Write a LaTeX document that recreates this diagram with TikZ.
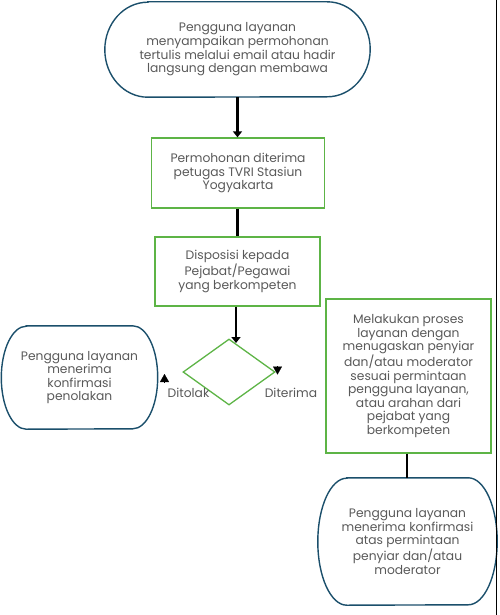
\documentclass[tikz,border=0pt]{standalone}
\usepackage{fontspec}
\setmainfont{Poppins}
\usetikzlibrary{shapes.geometric,arrows.meta}
\definecolor{termblue}{HTML}{1B4F6B}
\definecolor{boxgreen}{HTML}{5DB446}
\definecolor{txtgray}{HTML}{595959}

\tikzset{
  txt/.style={text=txtgray, font=\fontsize{12.3}{13.6}\selectfont, align=center, inner sep=0pt},
  procbox/.style={txt, draw=boxgreen, line width=1.3pt},
  termline/.style={draw=termblue, line width=1.4pt},
  flow/.style={draw=black, line width=2.6pt, -{Triangle[length=6pt,width=9pt]}},
  link/.style={draw=black, line width=2.6pt},
  tip/.style={-{Triangle[length=8pt,width=9pt]}, line width=0.1pt}
}

% terminator outline round a node: name, x radius, y radius
\newcommand{\termshape}[3]{%
  \draw[termline] ([xshift=#2]#1.north west) -- ([xshift=-#2]#1.north east)
    arc[start angle=90, end angle=-90, x radius=#2, y radius=#3]
    -- ([xshift=#2]#1.south west)
    arc[start angle=270, end angle=90, x radius=#2, y radius=#3] -- cycle;}

\begin{document}
\begin{tikzpicture}[x=1pt, y=-1pt]
  \useasboundingbox (0,0) rectangle (499,615);

    \node[txt, minimum width=265pt, minimum height=95pt] (start) at (237.5, 49.5)
      {Pengguna layanan\\ menyampaikan permohonan\\ tertulis melalui email atau hadir\\ langsung dengan membawa};
    \node[procbox, minimum width=173pt, minimum height=70pt] (recv) at (238, 173)
      {Permohonan diterima\\ petugas TVRI Stasiun\\ Yogyakarta};
    \node[procbox, minimum width=165pt, minimum height=69pt] (dispo) at (237.5, 271.5)
      {Disposisi kepada\\ Pejabat/Pegawai\\ yang berkompeten};
    \node[diamond, draw=boxgreen, line width=1.3pt, minimum width=92pt, minimum height=66pt, inner sep=0pt] (decide) at (229, 372) {};
    \node[txt, minimum width=156pt, minimum height=103pt] (reject) at (79.5, 377.5)
      {Pengguna layanan\\ menerima\\ konfirmasi\\ penolakan};
    \node[procbox, minimum width=165pt, minimum height=154pt] (proses) at (408.5, 376)
      {Melakukan proses\\ layanan dengan\\ menugaskan penyiar\\ dan/atau moderator\\ sesuai permintaan\\ pengguna layanan,\\ atau arahan dari\\ pejabat yang\\ berkompeten};
    \node[txt, minimum width=179pt, minimum height=127pt] (finish) at (407.5, 541.5)
      {Pengguna layanan\\ menerima konfirmasi\\ atas permintaan\\ penyiar dan/atau\\ moderator};
    \node[txt] (tolak) at (188.5, 393) {Ditolak};
    \node[txt] (terima) at (291, 393) {Diterima};

    \termshape{start}{43pt}{47.5pt}
    \termshape{reject}{25pt}{51.5pt}
    \termshape{finish}{29pt}{63.5pt}

    \coordinate (dtop) at (236, 343);
    \coordinate (lt1) at (164.5, 383);
    \coordinate (lt2) at (164.5, 374);
    \coordinate (rt1) at (277.5, 366);
    \coordinate (rt2) at (277.5, 374.5);

    \draw[flow] (start.south) -- (recv.north -| start.south);
    \draw[link] (recv.south -| dispo.north) -- (dispo.north);
    \draw[flow] (dispo.south -| dtop) -- (dtop);
    \draw[tip] (lt1) -- (lt2);
    \draw[tip] (rt1) -- (rt2);
    \draw[link] (proses.south -| 407,0) -- (finish.north -| 407,0);

    \draw[line width=1.5pt] (496.5,0) -- (496.5,615);

  \end{tikzpicture}
\end{document}
